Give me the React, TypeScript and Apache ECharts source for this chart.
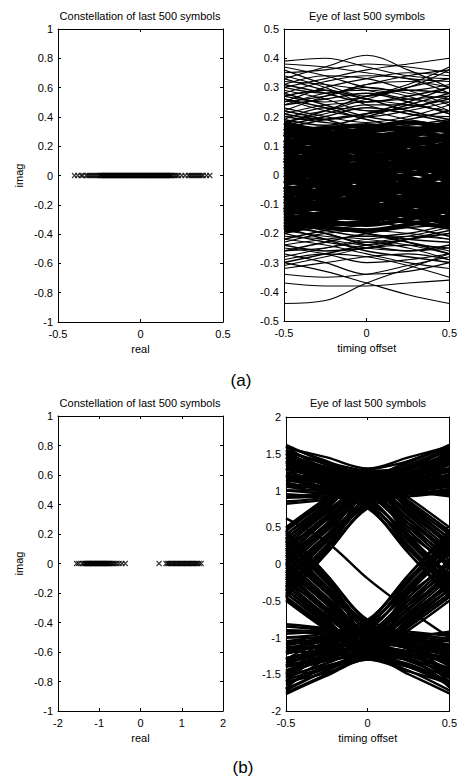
import React, { useEffect, useRef } from "react";
import * as echarts from "echarts";

// ---------- data ----------
const EYE_T = [-0.5, -0.25, 0, 0.25, 0.5];

const CON_A_REAL = [-0.40,-0.38,-0.36,-0.35,-0.33,-0.32,-0.31,-0.30,-0.29,-0.28,-0.27,-0.26,-0.25,-0.245,-0.24,-0.235,-0.23,-0.225,-0.22,-0.215,-0.21,-0.205,-0.20,-0.195,-0.19,-0.185,-0.18,-0.175,-0.17,-0.165,-0.16,-0.155,-0.15,-0.145,-0.14,-0.135,-0.13,-0.125,-0.12,-0.115,-0.11,-0.105,-0.10,-0.095,-0.09,-0.085,-0.08,-0.075,-0.07,-0.065,-0.06,-0.055,-0.05,-0.045,-0.04,-0.035,-0.03,-0.025,-0.02,-0.015,-0.01,-0.005,0.00,0.005,0.01,0.015,0.02,0.025,0.03,0.035,0.04,0.045,0.05,0.055,0.06,0.065,0.07,0.075,0.08,0.085,0.09,0.095,0.10,0.105,0.11,0.115,0.12,0.125,0.13,0.135,0.14,0.145,0.15,0.155,0.16,0.165,0.17,0.175,0.18,0.185,0.19,0.20,0.21,0.22,0.23,0.25,0.27,0.29,0.30,0.31,0.32,0.33,0.34,0.35,0.36,0.37,0.38,0.40,0.42];

const CON_B_REAL = [-1.55,-1.50,-1.42,-1.38,-1.35,-1.33,-1.31,-1.29,-1.27,-1.25,-1.23,-1.21,-1.19,-1.17,-1.15,-1.13,-1.11,-1.09,-1.07,-1.05,-1.03,-1.01,-0.99,-0.97,-0.95,-0.93,-0.91,-0.89,-0.87,-0.85,-0.83,-0.81,-0.79,-0.77,-0.75,-0.72,-0.69,-0.66,-0.62,-0.58,-0.52,-0.45,-0.37,0.45,0.62,0.66,0.69,0.72,0.75,0.78,0.81,0.84,0.87,0.90,0.93,0.96,0.99,1.02,1.05,1.08,1.11,1.14,1.17,1.20,1.23,1.26,1.29,1.32,1.35,1.38,1.42,1.47];

// Eye (a): outer sparse traces
const EYE_A_OUTER = [
[0.39,0.40,0.37,0.34,0.33],[0.33,0.37,0.41,0.36,0.30],[0.30,0.33,0.36,0.38,0.40],[0.37,0.34,0.30,0.29,0.31],
[0.35,0.36,0.38,0.37,0.35],[0.28,0.32,0.34,0.33,0.28],[0.36,0.31,0.27,0.30,0.36],[0.25,0.30,0.33,0.35,0.34],
[0.33,0.29,0.26,0.24,0.22],[0.22,0.27,0.31,0.32,0.30],[0.31,0.34,0.33,0.29,0.24],[0.27,0.25,0.27,0.31,0.37],
[0.24,0.28,0.29,0.27,0.22],[0.20,0.22,0.26,0.30,0.33],[0.34,0.30,0.24,0.21,0.20],[0.29,0.26,0.22,0.23,0.27],
[0.21,0.24,0.25,0.26,0.27],[0.26,0.22,0.20,0.22,0.25],[0.18,0.21,0.24,0.24,0.21],[0.23,0.20,0.18,0.20,0.24],
[0.19,0.23,0.22,0.19,0.17],[0.32,0.31,0.29,0.26,0.25],[0.38,0.37,0.35,0.33,0.32],[0.30,0.28,0.31,0.34,0.36],
[0.25,0.27,0.30,0.28,0.26],
[-0.44,-0.43,-0.37,-0.32,-0.27],[-0.30,-0.33,-0.37,-0.41,-0.44],[-0.37,-0.38,-0.38,-0.37,-0.36],[-0.34,-0.35,-0.34,-0.31,-0.28],
[-0.27,-0.30,-0.34,-0.33,-0.30],[-0.29,-0.27,-0.28,-0.31,-0.35],[-0.25,-0.27,-0.30,-0.29,-0.27],[-0.31,-0.28,-0.25,-0.24,-0.25],
[-0.22,-0.24,-0.27,-0.30,-0.32],[-0.26,-0.25,-0.23,-0.25,-0.29],[-0.20,-0.23,-0.25,-0.26,-0.25],[-0.24,-0.22,-0.21,-0.23,-0.26],
[-0.28,-0.25,-0.22,-0.21,-0.22],[-0.21,-0.22,-0.24,-0.22,-0.20],[-0.19,-0.21,-0.22,-0.24,-0.27],[-0.23,-0.20,-0.19,-0.20,-0.22],
[-0.32,-0.30,-0.28,-0.27,-0.29],[-0.18,-0.20,-0.23,-0.21,-0.18]
];

// Eye (a): intermediate density traces
const EYE_A_MID = [
[0.20,0.18,0.17,0.19,0.22],[0.22,0.19,0.16,0.17,0.19],[0.17,0.20,0.23,0.21,0.18],[0.19,0.17,0.20,0.24,0.28],
[0.28,0.24,0.20,0.18,0.17],[0.24,0.26,0.28,0.25,0.21],[0.21,0.19,0.21,0.25,0.30],[0.27,0.29,0.26,0.22,0.19],
[0.16,0.19,0.21,0.23,0.26],[0.26,0.23,0.19,0.16,0.15],[0.31,0.28,0.25,0.27,0.30],[0.18,0.22,0.27,0.29,0.28],
[-0.16,-0.19,-0.21,-0.20,-0.17],[-0.19,-0.17,-0.16,-0.18,-0.21],[-0.22,-0.19,-0.17,-0.16,-0.18],[-0.17,-0.20,-0.24,-0.26,-0.24],
[-0.24,-0.26,-0.25,-0.22,-0.19],[-0.20,-0.18,-0.20,-0.23,-0.27],[-0.15,-0.18,-0.20,-0.22,-0.23],[-0.26,-0.23,-0.20,-0.18,-0.17],
[-0.18,-0.22,-0.26,-0.28,-0.30],[-0.30,-0.27,-0.24,-0.22,-0.20]
];

// Eye (a): dense core traces
const EYE_A_CORE = [
[0.17,0.15,0.12,0.14,0.16],[0.15,0.16,0.17,0.15,0.13],[0.16,0.12,0.08,0.10,0.14],[0.13,0.14,0.15,0.16,0.15],
[0.12,0.10,0.07,0.05,0.04],[0.10,0.12,0.14,0.12,0.09],[0.14,0.11,0.09,0.11,0.12],[0.08,0.10,0.12,0.14,0.16],
[0.11,0.08,0.05,0.07,0.10],[0.09,0.07,0.06,0.08,0.11],[0.07,0.09,0.11,0.10,0.08],[0.06,0.04,0.03,0.05,0.08],
[0.05,0.07,0.09,0.07,0.05],[0.04,0.06,0.05,0.03,0.01],[0.03,0.01,0.00,0.02,0.05],[0.02,0.04,0.06,0.08,0.07],
[0.01,-0.01,-0.02,0.00,0.03],[0.00,0.02,0.04,0.03,0.00],[-0.01,0.01,0.02,0.01,-0.02],[-0.02,-0.04,-0.05,-0.03,0.00],
[-0.03,-0.01,0.01,-0.01,-0.04],[-0.04,-0.06,-0.07,-0.05,-0.03],[-0.05,-0.03,-0.02,-0.04,-0.07],[-0.06,-0.08,-0.09,-0.07,-0.05],
[-0.07,-0.05,-0.04,-0.06,-0.09],[-0.08,-0.10,-0.11,-0.09,-0.06],[-0.09,-0.07,-0.06,-0.08,-0.10],[-0.10,-0.12,-0.13,-0.11,-0.09],
[-0.11,-0.09,-0.08,-0.10,-0.13],[-0.12,-0.14,-0.15,-0.13,-0.11],[-0.13,-0.11,-0.10,-0.12,-0.15],[-0.14,-0.16,-0.17,-0.15,-0.12],
[-0.15,-0.13,-0.12,-0.14,-0.16],[-0.16,-0.18,-0.19,-0.17,-0.14],[-0.17,-0.15,-0.14,-0.16,-0.18],[0.14,0.10,0.04,-0.02,-0.08],
[-0.08,-0.02,0.04,0.10,0.14],[0.10,0.05,-0.01,-0.06,-0.10],[-0.12,-0.06,0.00,0.06,0.11],[0.06,0.02,-0.04,-0.09,-0.13],
[-0.14,-0.09,-0.03,0.03,0.08],[0.18,0.14,0.10,0.06,0.02],[0.02,0.06,0.10,0.14,0.18],[-0.18,-0.13,-0.08,-0.04,0.00],
[0.00,-0.04,-0.09,-0.13,-0.17],[0.12,0.06,0.00,0.04,0.10],[-0.10,-0.04,0.02,-0.03,-0.09],[0.04,0.09,0.13,0.08,0.02],
[-0.04,-0.09,-0.13,-0.08,-0.02],[0.08,0.03,-0.02,-0.06,-0.04],[-0.06,-0.02,0.03,0.07,0.05],[0.16,0.13,0.11,0.13,0.17],
[0.11,0.13,0.16,0.18,0.16],[-0.15,-0.17,-0.16,-0.13,-0.10],[-0.19,-0.16,-0.12,-0.10,-0.11],[0.05,0.00,-0.05,-0.03,0.02],
[-0.03,0.02,0.07,0.04,-0.01],[0.13,0.16,0.14,0.10,0.06],[-0.11,-0.14,-0.12,-0.07,-0.02],[0.09,0.12,0.10,0.06,0.03],
[-0.07,-0.10,-0.08,-0.04,0.01],[0.03,0.05,0.02,-0.02,-0.05],[-0.01,-0.03,-0.06,-0.09,-0.12],[0.07,0.04,0.01,0.03,0.06],
[-0.09,-0.12,-0.14,-0.11,-0.07],[0.15,0.12,0.13,0.15,0.18],[-0.13,-0.10,-0.07,-0.08,-0.12],[0.01,0.03,0.00,-0.04,-0.07],
[-0.05,-0.07,-0.04,0.00,0.04],[0.10,0.08,0.10,0.12,0.13]
];

// Eye (b): traces
const EYE_B = [
// +1 stays
[1.60,1.40,1.22,1.38,1.62],[1.55,1.35,1.18,1.40,1.60],[1.50,1.30,1.15,1.32,1.55],[1.45,1.28,1.12,1.25,1.48],
[1.40,1.22,1.08,1.20,1.42],[1.35,1.20,1.05,1.18,1.38],[1.30,1.15,1.02,1.10,1.30],[1.25,1.12,1.00,1.08,1.22],
[1.20,1.10,0.98,1.05,1.18],[1.15,1.05,0.95,1.02,1.12],[1.10,1.00,0.92,0.98,1.05],[1.05,0.98,0.90,0.95,1.00],
[1.00,0.95,0.88,0.92,0.98],[0.95,0.92,0.90,0.95,1.02],[0.90,0.92,0.95,1.00,1.08],[0.85,0.90,0.98,1.05,1.15],
[1.28,1.25,1.20,1.22,1.30],[1.42,1.30,1.25,1.30,1.45],[1.58,1.45,1.30,1.45,1.60],[1.12,1.15,1.18,1.20,1.25],
[1.35,1.25,1.10,1.00,0.92],[0.82,0.88,1.00,1.15,1.35],
[1.62,1.38,1.20,1.30,1.50],[1.48,1.32,1.22,1.35,1.58],[1.22,1.08,0.96,1.00,1.10],[1.08,1.02,0.94,1.04,1.20],
[0.92,0.95,1.00,1.08,1.22],[1.32,1.18,1.06,1.12,1.26],[1.52,1.38,1.26,1.20,1.12],[1.18,1.22,1.28,1.40,1.60],
[1.00,1.00,0.98,0.96,0.95],[1.38,1.28,1.15,1.25,1.42],
// rising into +1
[-0.36,0.20,0.76,0.95,1.20],[-0.25,0.30,0.82,1.00,1.30],[-0.15,0.38,0.88,1.05,1.40],[-0.05,0.45,0.95,1.10,1.45],
[0.05,0.55,1.00,1.12,1.35],[0.15,0.62,1.05,1.15,1.50],[0.25,0.70,1.10,1.20,1.55],[0.35,0.78,1.15,1.18,1.28],
[0.45,0.85,1.20,1.25,1.40],[0.50,0.90,1.25,1.30,1.60],[-0.45,0.15,0.80,1.02,1.15],[0.10,0.60,1.02,1.05,1.05],
[-0.20,0.35,0.90,1.08,1.22],[0.30,0.72,1.12,1.22,1.45],
[-0.40,0.15,0.78,1.00,1.10],[0.00,0.50,0.98,1.15,1.30],[0.40,0.82,1.18,1.28,1.52],[-0.30,0.25,0.84,1.10,1.38],
[0.20,0.66,1.08,1.10,1.18],
// +1 falling
[1.20,0.95,0.76,0.20,-0.36],[1.30,1.00,0.82,0.30,-0.25],[1.40,1.05,0.88,0.38,-0.15],[1.45,1.10,0.95,0.45,-0.05],
[1.35,1.12,1.00,0.55,0.05],[1.50,1.15,1.05,0.62,0.15],[1.55,1.20,1.10,0.70,0.25],[1.28,1.18,1.15,0.78,0.35],
[1.40,1.25,1.20,0.85,0.45],[1.60,1.30,1.25,0.90,0.50],[1.15,1.02,0.80,0.15,-0.45],[1.05,1.05,1.02,0.60,0.10],
[1.22,1.08,0.90,0.35,-0.20],[1.45,1.22,1.12,0.72,0.30],
[1.10,1.00,0.78,0.15,-0.40],[1.30,1.15,0.98,0.50,0.00],[1.52,1.28,1.18,0.82,0.40],[1.38,1.10,0.84,0.25,-0.30],
[1.18,1.10,1.08,0.66,0.20],
// -1 +1 -1
[-0.34,0.22,0.77,0.22,-0.34],[-0.20,0.32,0.85,0.30,-0.25],[0.00,0.48,0.95,0.45,-0.05],[0.20,0.65,1.08,0.60,0.12],
[0.40,0.80,1.18,0.75,0.35],[0.48,0.88,1.28,0.86,0.45],[-0.10,0.40,0.90,0.50,0.10],[0.30,0.70,1.00,0.40,-0.20],
[-0.30,0.25,0.80,0.40,0.00],[0.10,0.55,1.12,0.68,0.30],[-0.45,0.18,0.92,0.55,0.20],[0.25,0.60,0.98,0.35,-0.30],
[0.05,0.52,1.02,0.55,0.05],[0.35,0.75,1.22,0.80,0.42],
// -1 stays
[-1.75,-1.50,-1.27,-1.45,-1.72],[-1.70,-1.45,-1.25,-1.40,-1.65],[-1.62,-1.42,-1.22,-1.38,-1.60],[-1.55,-1.35,-1.18,-1.32,-1.55],
[-1.48,-1.30,-1.12,-1.28,-1.50],[-1.40,-1.25,-1.08,-1.22,-1.42],[-1.35,-1.20,-1.05,-1.15,-1.35],[-1.28,-1.15,-1.02,-1.10,-1.25],
[-1.22,-1.10,-0.98,-1.05,-1.18],[-1.15,-1.05,-0.95,-1.02,-1.12],[-1.10,-1.00,-0.92,-0.98,-1.05],[-1.05,-0.98,-0.90,-0.95,-1.02],
[-1.00,-0.95,-0.88,-0.92,-0.98],[-0.95,-0.92,-0.90,-0.95,-1.02],[-0.90,-0.92,-0.96,-1.02,-1.10],[-0.85,-0.90,-0.98,-1.08,-1.20],
[-1.30,-1.26,-1.20,-1.24,-1.32],[-1.45,-1.32,-1.24,-1.30,-1.48],[-1.60,-1.48,-1.30,-1.46,-1.62],[-1.12,-1.15,-1.18,-1.22,-1.28],
[-1.38,-1.25,-1.10,-1.00,-0.92],[-0.82,-0.88,-1.00,-1.15,-1.38],[-1.72,-1.45,-1.27,-1.30,-1.68],
[-1.77,-1.52,-1.30,-1.40,-1.62],[-1.58,-1.40,-1.25,-1.36,-1.60],[-1.22,-1.08,-0.96,-1.00,-1.10],[-1.08,-1.02,-0.94,-1.04,-1.20],
[-0.92,-0.95,-1.00,-1.08,-1.22],[-1.32,-1.18,-1.06,-1.12,-1.26],[-1.52,-1.38,-1.26,-1.20,-1.12],[-1.18,-1.22,-1.28,-1.40,-1.62],
[-1.00,-1.00,-0.98,-0.96,-0.95],[-1.40,-1.28,-1.15,-1.25,-1.45],[-1.65,-1.40,-1.25,-1.50,-1.76],
// falling into -1
[0.36,-0.20,-0.76,-0.95,-1.20],[0.25,-0.30,-0.82,-1.00,-1.30],[0.15,-0.38,-0.88,-1.05,-1.40],[0.05,-0.45,-0.95,-1.10,-1.50],
[-0.05,-0.55,-1.00,-1.12,-1.35],[-0.15,-0.62,-1.05,-1.15,-1.55],[-0.25,-0.70,-1.10,-1.20,-1.60],[-0.35,-0.78,-1.15,-1.18,-1.28],
[-0.45,-0.85,-1.20,-1.25,-1.45],[-0.50,-0.90,-1.25,-1.30,-1.65],[0.45,-0.15,-0.80,-1.02,-1.15],[-0.10,-0.60,-1.02,-1.05,-1.05],
[0.20,-0.35,-0.90,-1.08,-1.22],[-0.30,-0.72,-1.12,-1.22,-1.48],
[0.40,-0.15,-0.78,-1.00,-1.10],[0.00,-0.50,-0.98,-1.15,-1.30],[-0.40,-0.82,-1.18,-1.28,-1.52],[0.30,-0.25,-0.84,-1.10,-1.38],
[-0.20,-0.66,-1.08,-1.10,-1.18],
// -1 rising
[-1.20,-0.95,-0.76,-0.20,0.36],[-1.30,-1.00,-0.82,-0.30,0.25],[-1.40,-1.05,-0.88,-0.38,0.15],[-1.50,-1.10,-0.95,-0.45,0.05],
[-1.35,-1.12,-1.00,-0.55,-0.05],[-1.55,-1.15,-1.05,-0.62,-0.15],[-1.60,-1.20,-1.10,-0.70,-0.25],[-1.28,-1.18,-1.15,-0.78,-0.35],
[-1.45,-1.25,-1.20,-0.85,-0.45],[-1.70,-1.30,-1.25,-0.90,-0.50],[-1.15,-1.02,-0.80,-0.15,0.45],[-1.05,-1.05,-1.02,-0.60,-0.10],
[-1.22,-1.08,-0.90,-0.35,0.20],[-1.48,-1.22,-1.12,-0.72,-0.30],
[-1.10,-1.00,-0.78,-0.15,0.40],[-1.30,-1.15,-0.98,-0.50,0.00],[-1.52,-1.28,-1.18,-0.82,-0.40],[-1.38,-1.10,-0.84,-0.25,0.30],
[-1.18,-1.10,-1.08,-0.66,-0.20],
// +1 -1 +1
[0.34,-0.22,-0.77,-0.22,0.34],[0.20,-0.32,-0.85,-0.30,0.25],[0.00,-0.48,-0.95,-0.45,0.05],[-0.20,-0.65,-1.08,-0.60,-0.12],
[-0.40,-0.80,-1.18,-0.75,-0.35],[-0.48,-0.88,-1.28,-0.86,-0.45],[0.10,-0.40,-0.90,-0.50,-0.10],[-0.30,-0.70,-1.00,-0.40,0.20],
[0.30,-0.25,-0.80,-0.40,0.00],[-0.10,-0.55,-1.12,-0.68,-0.30],[0.45,-0.18,-0.92,-0.55,-0.20],[-0.25,-0.60,-0.98,-0.35,0.30],
[-0.05,-0.52,-1.02,-0.55,-0.05],[-0.35,-0.75,-1.22,-0.80,-0.42],
// outlier
[0.62,0.30,-0.20,-0.62,-1.00]
];

const FONT = "Liberation Sans, Arial, sans-serif";
const SYM_X = "path://M0,0L10,10M10,0L0,10";

function App() {
  const ref = useRef<HTMLDivElement>(null);
  useEffect(() => {
    document.body.style.margin = "0";
    const chart = echarts.init(ref.current!, null, { renderer: "svg" });

    const grids = [
      { left: 58, top: 29, width: 165, height: 293 },
      { left: 284, top: 29, width: 166, height: 292 },
      { left: 58, top: 416, width: 165, height: 295 },
      { left: 286, top: 417, width: 165, height: 294 },
    ];
    const xSpec = [
      { min: -0.5, max: 0.5, interval: 0.5, name: "real" },
      { min: -0.5, max: 0.5, interval: 0.5, name: "timing offset" },
      { min: -2, max: 2, interval: 1, name: "real" },
      { min: -0.5, max: 0.5, interval: 0.5, name: "timing offset" },
    ];
    const ySpec = [
      { min: -1, max: 1, interval: 0.2, name: "imag" },
      { min: -0.5, max: 0.5, interval: 0.1, name: "" },
      { min: -1, max: 1, interval: 0.2, name: "imag" },
      { min: -2, max: 2, interval: 0.5, name: "" },
    ];
    const line = { show: true, onZero: false, lineStyle: { color: "#000", width: 1 } };
    const tick = { show: true, inside: true, length: 3, lineStyle: { color: "#000", width: 1 } };
    const lab = { color: "#000", fontSize: 11, fontFamily: FONT };
    const xAxis: any[] = [];
    const yAxis: any[] = [];
    grids.forEach((g, i) => {
      const xs = xSpec[i];
      const ys = ySpec[i];
      xAxis.push({
        gridIndex: i, type: "value", min: xs.min, max: xs.max, interval: xs.interval, position: "bottom",
        axisLine: line, axisTick: tick, splitLine: { show: false },
        axisLabel: { ...lab, margin: 6 },
        name: xs.name, nameLocation: "middle", nameGap: 21,
        nameTextStyle: { color: "#000", fontSize: 11, fontFamily: FONT },
        z: 10,
      });
      xAxis.push({
        gridIndex: i, type: "value", min: xs.min, max: xs.max, interval: xs.interval, position: "top",
        axisLine: line, axisTick: tick, splitLine: { show: false }, axisLabel: { show: false }, z: 10,
      });
      yAxis.push({
        gridIndex: i, type: "value", min: ys.min, max: ys.max, interval: ys.interval, position: "left",
        axisLine: line, axisTick: tick, splitLine: { show: false },
        axisLabel: { ...lab, margin: 5 },
        name: ys.name, nameLocation: "middle", nameGap: 34,
        nameTextStyle: { color: "#000", fontSize: 11, fontFamily: FONT },
        z: 10,
      });
      yAxis.push({
        gridIndex: i, type: "value", min: ys.min, max: ys.max, interval: ys.interval, position: "right",
        axisLine: line, axisTick: tick, splitLine: { show: false }, axisLabel: { show: false }, z: 10,
      });
    });

    const series: any[] = [];
    const scatter = (vals: number[], gi: number) => ({
      type: "scatter", xAxisIndex: gi * 2, yAxisIndex: gi * 2,
      data: vals.map((v) => [v, 0]), symbol: SYM_X, symbolSize: 5,
      itemStyle: { color: "none", borderColor: "#000", borderWidth: 1.1 },
      silent: true,
    });
    series.push(scatter(CON_A_REAL, 0));
    series.push(scatter(CON_B_REAL, 2));
    const trace = (vals: number[], gi: number, w: number) => ({
      type: "line", xAxisIndex: gi * 2, yAxisIndex: gi * 2,
      data: vals.map((v, k) => [EYE_T[k], v]), showSymbol: false, symbol: "none",
      smooth: 0.35, lineStyle: { color: "#000", width: w }, silent: true, clip: true,
    });
    EYE_A_OUTER.forEach((t) => series.push(trace(t, 1, 1.1)));
    EYE_A_MID.forEach((t) => series.push(trace(t, 1, 1.5)));
    EYE_A_CORE.forEach((t) => series.push(trace(t, 1, 4.6)));
    EYE_B.forEach((t) => series.push(trace(t, 3, 2.4)));

    const txt = (x: number, y: number, s: string, size: number) => ({
      type: "text", x, y,
      style: { text: s, fill: "#000", font: `${size}px ${FONT}`, textAlign: "center", textVerticalAlign: "middle" },
    });

    chart.setOption({
      animation: false,
      backgroundColor: "#fff",
      grid: grids,
      xAxis, yAxis, series,
      graphic: [
        txt(140, 16, "Constellation of last 500 symbols", 11),
        txt(367, 16, "Eye of last 500 symbols", 11),
        txt(140, 403, "Constellation of last 500 symbols", 11),
        txt(368, 403, "Eye of last 500 symbols", 11),
        txt(241, 380, "(a)", 17),
        txt(243, 767, "(b)", 17),
      ],
    });
    return () => chart.dispose();
  }, []);
  return <div ref={ref} style={{ width: 460, height: 781 }} />;
}

export default App;
